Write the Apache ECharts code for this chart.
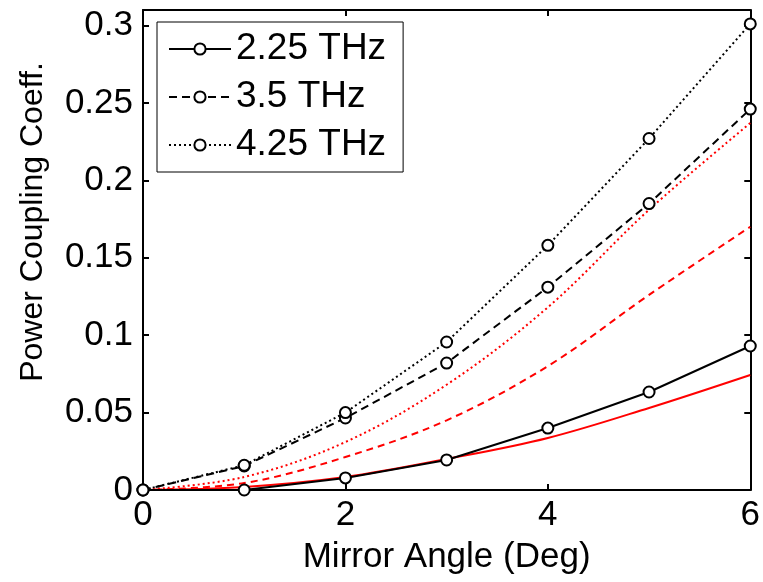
<!DOCTYPE html>
<html>
<head>
<meta charset="utf-8">
<script src="https://cdn.jsdelivr.net/npm/echarts@6/dist/echarts.min.js"></script>
<style>html,body{margin:0;padding:0;background:#fff;}#c{width:763px;height:582px;}</style>
</head>
<body>
<div id="c"></div>
<script>
var angles = [0, 1, 2, 3, 4, 5, 6];
var seriesNames = ['2.25 THz', '3.5 THz', '4.25 THz'];
var meas225 = [0, 0, 0.0078, 0.0194, 0.040, 0.0633, 0.093];
var meas350 = [0, 0.0155, 0.0465, 0.082, 0.131, 0.185, 0.246];
var meas425 = [0, 0.016, 0.050, 0.0956, 0.158, 0.227, 0.301];
var model225 = [0, 0.002, 0.0084, 0.020, 0.0336, 0.053, 0.0743];
var model350 = [0, 0.0045, 0.0213, 0.045, 0.080, 0.126, 0.170];
var model425 = [0, 0.0084, 0.031, 0.068, 0.118, 0.181, 0.237];
var xTicks = [0, 2, 4, 6];
var yTicks = [0, 0.05, 0.1, 0.15, 0.2, 0.25, 0.3];

function pairs(vals) { return angles.map(function (a, i) { return [a, vals[i]]; }); }

var FONT = 'Liberation Sans';
var chart = echarts.init(document.getElementById('c'), null, {renderer: 'canvas'});

function redLine(name, vals, type) {
  return {
    name: name, type: 'line', data: pairs(vals), smooth: 0.35, showSymbol: false, symbol: 'none',
    lineStyle: {color: '#ff0000', width: 2, type: type}, z: 2, animation: false
  };
}
function blackLine(name, vals, type) {
  return {
    name: name, type: 'line', data: pairs(vals), smooth: false,
    symbol: 'circle', symbolSize: 11, showSymbol: true,
    itemStyle: {color: '#ffffff', borderColor: '#000000', borderWidth: 2},
    lineStyle: {color: '#000000', width: 2, type: type}, z: 3, animation: false
  };
}

var option = {
  backgroundColor: '#ffffff',
  animation: false,
  textStyle: {fontFamily: FONT, color: '#000'},
  grid: {left: 143, right: 11, top: 10, bottom: 92, containLabel: false},
  legend: {
    data: seriesNames,
    orient: 'vertical',
    left: 157, top: 22,
    padding: [8, 17, 8, 11],
    itemGap: 10,
    itemWidth: 62, itemHeight: 14,
    borderColor: '#000', borderWidth: 1,
    backgroundColor: '#fff',
    textStyle: {fontFamily: FONT, fontSize: 37, color: '#000', lineHeight: 38},
    selectedMode: false
  },
  xAxis: [{
    type: 'value', min: 0, max: 6, interval: 2,
    name: 'Mirror Angle (Deg)', nameLocation: 'middle', nameGap: 50,
    nameTextStyle: {fontFamily: FONT, fontSize: 35, color: '#000'},
    axisLine: {show: true, onZero: false, lineStyle: {color: '#000', width: 2}},
    axisTick: {show: true, inside: true, length: 6, lineStyle: {color: '#000', width: 2}},
    axisLabel: {fontFamily: FONT, fontSize: 35, color: '#000', margin: 8,
      formatter: function (v) { return xTicks.indexOf(v) >= 0 ? String(v) : ''; }},
    splitLine: {show: false}
  }, {
    type: 'value', min: 0, max: 6, interval: 2, position: 'top',
    axisLine: {show: true, onZero: false, lineStyle: {color: '#000', width: 2}},
    axisTick: {show: true, inside: true, length: 6, lineStyle: {color: '#000', width: 2}},
    axisLabel: {show: false}, splitLine: {show: false}
  }],
  yAxis: [{
    type: 'value', min: 0, max: 0.31, interval: 0.05,
    axisLine: {show: true, onZero: false, lineStyle: {color: '#000', width: 2}},
    axisTick: {show: true, inside: true, length: 6, lineStyle: {color: '#000', width: 2}},
    axisLabel: {fontFamily: FONT, fontSize: 35, color: '#000', margin: 10, showMaxLabel: false,
      formatter: function (v) {
        for (var i = 0; i < yTicks.length; i++) { if (Math.abs(yTicks[i] - v) < 1e-9) return String(yTicks[i]); }
        return '';
      }},
    splitLine: {show: false}
  }, {
    type: 'value', min: 0, max: 0.31, interval: 0.05, position: 'right',
    axisLine: {show: true, onZero: false, lineStyle: {color: '#000', width: 2}},
    axisTick: {show: true, inside: true, length: 6, lineStyle: {color: '#000', width: 2}},
    axisLabel: {show: false}, splitLine: {show: false}
  }],
  graphic: [{
    type: 'text', x: 33, y: 222, rotation: Math.PI / 2,
    style: {text: 'Power Coupling Coeff.', fontFamily: FONT, fontSize: 32, fill: '#000',
      align: 'center', verticalAlign: 'middle'}
  }],
  series: [
    redLine('model 2.25', model225, 'solid'),
    redLine('model 3.5', model350, [7, 5]),
    redLine('model 4.25', model425, [2, 3]),
    blackLine(seriesNames[0], meas225, 'solid'),
    blackLine(seriesNames[1], meas350, [8, 5]),
    blackLine(seriesNames[2], meas425, [2, 3])
  ]
};
chart.setOption(option);
</script>
</body>
</html>
